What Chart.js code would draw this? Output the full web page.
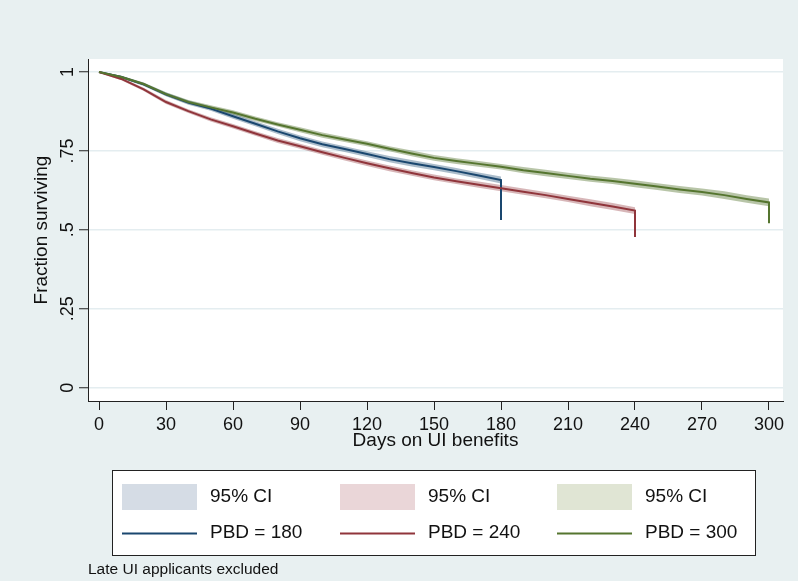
<!DOCTYPE html>
<html>
<head>
<meta charset="utf-8">
<title>Survival by PBD</title>
<script src="https://cdn.jsdelivr.net/npm/chart.js@4.4.1/dist/chart.umd.min.js"></script>
<style>
  html, body { margin: 0; padding: 0; background: #e8f0f1; }
  #wrap { width: 798px; height: 581px; }
</style>
</head>
<body>
<div id="wrap"><canvas id="survChart" width="798" height="581"></canvas></div>
<script>
// Kaplan-Meier style survival, read every 10 days
const days = [0, 10, 20, 30, 40, 50, 60, 70, 80, 90, 100, 110, 120, 130, 140, 150,
  160, 170, 180, 190, 200, 210, 220, 230, 240, 250, 260, 270, 280, 290, 300];

const surv180 = [1.000, 0.984, 0.961, 0.929, 0.903, 0.884, 0.860, 0.836, 0.812, 0.790,
  0.771, 0.756, 0.740, 0.724, 0.711, 0.699, 0.686, 0.672, 0.658];
const surv240 = [1.000, 0.978, 0.945, 0.905, 0.876, 0.850, 0.828, 0.805, 0.783, 0.765,
  0.746, 0.728, 0.711, 0.695, 0.680, 0.666, 0.654, 0.643, 0.632, 0.621, 0.610, 0.598,
  0.586, 0.574, 0.561];
const surv300 = [1.000, 0.984, 0.962, 0.930, 0.905, 0.888, 0.872, 0.852, 0.834, 0.817,
  0.800, 0.786, 0.773, 0.757, 0.742, 0.728, 0.718, 0.709, 0.700, 0.689, 0.680, 0.671,
  0.662, 0.655, 0.646, 0.637, 0.628, 0.620, 0.610, 0.598, 0.587];

// half width of the 95% CI at the same days
const ci180 = [0.002, 0.004, 0.005, 0.006, 0.007, 0.007, 0.008, 0.008, 0.008, 0.009,
  0.009, 0.009, 0.009, 0.010, 0.010, 0.010, 0.010, 0.010, 0.011];
const ci240 = [0.002, 0.004, 0.005, 0.006, 0.006, 0.007, 0.007, 0.007, 0.008, 0.008,
  0.008, 0.008, 0.009, 0.009, 0.009, 0.009, 0.009, 0.010, 0.010, 0.010, 0.010, 0.010,
  0.011, 0.011, 0.011];
const ci300 = [0.002, 0.004, 0.005, 0.006, 0.006, 0.007, 0.007, 0.007, 0.007, 0.008,
  0.008, 0.008, 0.008, 0.008, 0.009, 0.009, 0.009, 0.009, 0.009, 0.010, 0.010, 0.010,
  0.010, 0.010, 0.011, 0.011, 0.011, 0.011, 0.012, 0.012, 0.012];

// value the last step falls to when benefits run out
const pbdDays = [180, 240, 300];
const exhaustDrop = [0.531, 0.477, 0.521];

const xTicks = [0, 30, 60, 90, 120, 150, 180, 210, 240, 270, 300];
const yTicks = [0, 0.25, 0.5, 0.75, 1];
const yTickLabels = ['0', '.25', '.5', '.75', '1'];

const seriesLabels = ['PBD = 180', 'PBD = 240', 'PBD = 300'];
const ciLabel = '95% CI';
const noteText = 'Late UI applicants excluded';

const FONT = "'Liberation Sans', Arial, sans-serif";
const lineColors = ['#1a476f', '#90353b', '#55752f'];
const bandColors = ['rgba(26,71,111,0.36)', 'rgba(144,53,59,0.36)', 'rgba(85,117,47,0.42)'];
const swatchColors = ['#d5dce5', '#ead6d8', '#e0e5d4'];

function linePoints(vals, k) {
  const pts = vals.map((v, i) => ({ x: days[i], y: v }));
  pts.push({ x: pbdDays[k], y: exhaustDrop[k] });
  return pts;
}

function bandPoints(vals, half, sign) {
  return vals.map((v, i) => ({ x: days[i], y: v + sign * half[i] }));
}

const survs = [surv180, surv240, surv300];
const cis = [ci180, ci240, ci300];

const datasets = [];
survs.forEach((s, k) => {
  datasets.push({
    data: bandPoints(s, cis[k], 1),
    borderWidth: 0, pointRadius: 0, fill: false, order: 10 + k
  });
  datasets.push({
    data: bandPoints(s, cis[k], -1),
    borderWidth: 0, pointRadius: 0, fill: '-1',
    backgroundColor: bandColors[k], order: 10 + k
  });
});
// green on top, then red, then blue
survs.forEach((s, k) => {
  datasets.push({
    label: seriesLabels[k],
    data: linePoints(s, k),
    borderColor: lineColors[k],
    borderWidth: 2,
    pointRadius: 0,
    tension: 0,
    fill: false,
    order: 2 - k
  });
});

const stataBackground = {
  id: 'stataBackground',
  beforeDraw(chart) {
    const { ctx, chartArea: a } = chart;
    ctx.save();
    ctx.fillStyle = '#e8f0f1';
    ctx.fillRect(0, 0, chart.width, chart.height);
    ctx.fillStyle = '#ffffff';
    ctx.fillRect(a.left, a.top, a.right - a.left, a.bottom - a.top);
    ctx.restore();
  }
};

// two-row key: CI swatches on top, lines below, one column per PBD
const stataKey = {
  id: 'stataKey',
  afterDraw(chart) {
    const ctx = chart.ctx;
    ctx.save();
    ctx.fillStyle = '#ffffff';
    ctx.fillRect(112, 470, 643, 85);
    ctx.strokeStyle = '#222';
    ctx.lineWidth = 1;
    ctx.strokeRect(112.5, 470.5, 643, 85);

    ctx.font = '19px ' + FONT;
    ctx.textBaseline = 'middle';
    ctx.textAlign = 'left';
    const colX = [122, 340, 557];
    for (let k = 0; k < 3; k++) {
      const x = colX[k];
      ctx.fillStyle = swatchColors[k];
      ctx.fillRect(x, 484, 75, 26);
      ctx.strokeStyle = lineColors[k];
      ctx.lineWidth = 2;
      ctx.beginPath();
      ctx.moveTo(x, 533.5);
      ctx.lineTo(x + 75, 533.5);
      ctx.stroke();
      ctx.fillStyle = '#111';
      ctx.fillText(ciLabel, x + 88, 497);
      ctx.fillText(seriesLabels[k], x + 88, 533);
    }

    ctx.font = '15.5px ' + FONT;
    ctx.fillText(noteText, 88, 570);
    ctx.restore();
  }
};

new Chart(document.getElementById('survChart'), {
  type: 'line',
  data: { datasets: datasets },
  plugins: [stataBackground, stataKey],
  options: {
    responsive: false,
    animation: false,
    devicePixelRatio: 1,
    layout: { padding: { left: 0, right: 15, top: 59, bottom: 128 } },
    plugins: { legend: { display: false }, tooltip: { enabled: false } },
    scales: {
      x: {
        type: 'linear',
        min: -4.93,
        max: 306.27,
        afterFit(scale) { scale.height = 52; },
        afterBuildTicks(scale) { scale.ticks = xTicks.map(v => ({ value: v })); },
        grid: { drawOnChartArea: false, tickLength: 9, tickColor: '#222', tickWidth: 1 },
        border: { color: '#222', width: 1 },
        ticks: { font: { family: FONT, size: 18 }, color: '#111', padding: 4, maxRotation: 0, autoSkip: false },
        title: {
          display: true, text: 'Days on UI benefits', color: '#111',
          font: { family: FONT, size: 19 }, padding: { top: 0, bottom: 1 }
        }
      },
      y: {
        type: 'linear',
        min: -0.0421,
        max: 1.0412,
        afterFit(scale) { scale.width = 88; },
        afterBuildTicks(scale) { scale.ticks = yTicks.map(v => ({ value: v })); },
        grid: { color: '#e4edf0', lineWidth: 1.5, tickLength: 9, tickColor: '#222', tickWidth: 1 },
        border: { color: '#222', width: 1 },
        ticks: {
          font: { family: FONT, size: 18 }, color: '#111', padding: -2,
          minRotation: 90, maxRotation: 90, crossAlign: 'center', autoSkip: false,
          callback: (v) => yTickLabels[yTicks.indexOf(v)]
        },
        title: {
          display: true, text: 'Fraction surviving', color: '#111',
          font: { family: FONT, size: 19 }, padding: { top: 30, bottom: 0 }
        }
      }
    }
  }
});
</script>
</body>
</html>
